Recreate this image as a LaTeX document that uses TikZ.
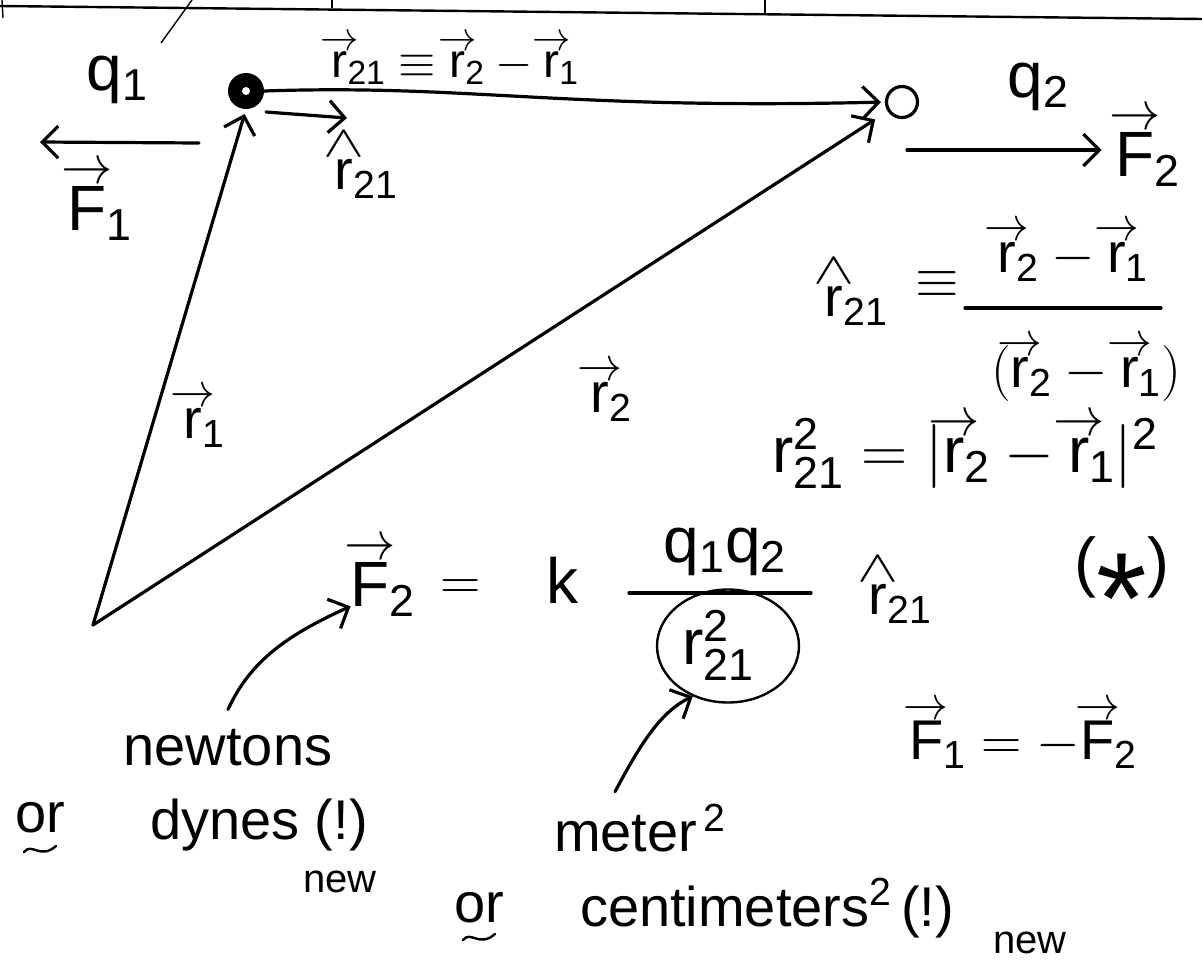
\RequirePackage{fix-cm}
\documentclass[tikz,border=0pt]{standalone}
\usepackage{fontspec}
\setmainfont{Liberation Sans}
\setsansfont{Liberation Sans}
\usetikzlibrary{arrows.meta,shapes.geometric}
\newcommand\Vc[1]{\mathord{\setbox0=\hbox{$\mathsf{#1}$}\hbox to\wd0{\hss\vbox{\offinterlineskip\halign{\hfil##\hfil\cr\scalebox{0.8}[0.85]{$\rightarrow$}\cr\noalign{\kern0.04em}\box0\cr}}\hss}}}
\newcommand\Hc[1]{\mathord{\setbox0=\hbox{$\mathsf{#1}$}\hbox to\wd0{\hss\vbox{\offinterlineskip\halign{\hfil##\hfil\cr\scalebox{1.1}[0.8]{$\wedge$}\cr\noalign{\kern0.06em}\box0\cr}}\hss}}}
\newcommand\sx[1]{\mathsf{#1}}
\newcommand\starmark{{\fontsize{66}{70}\selectfont(}\raisebox{-1.05em}{\fontsize{130}{130}\selectfont *}{\fontsize{66}{70}\selectfont)}}
\begin{document}
\begin{tikzpicture}[x=1pt,y=-1pt,
  ink/.style={line width=3.2pt, line cap=round, line join=round},
  vecto/.style={ink, -{Straight Barb[length=16pt,width=32pt]}},
  big/.style={inner sep=0pt, font=\fontsize{56}{60}\selectfont},
  lab/.style={inner sep=0pt, font=\fontsize{64}{68}\selectfont},
  mid/.style={inner sep=0pt, font=\fontsize{48}{52}\selectfont},
  large/.style={inner sep=0pt, font=\fontsize{64}{68}\selectfont},
  small/.style={inner sep=0pt, font=\fontsize{40}{44}\selectfont},
  rule/.style={line width=2.4pt},
  thin/.style={line width=1.4pt}
]
\useasboundingbox (0,0) rectangle (1202,964);
% top rule of the page
\draw[rule] (0,6) -- (1202,19);
\draw[thin] (332,0) -- (332,8);
\draw[thin] (765,0) -- (765,14);
\draw[thin] (192,0) -- (161,43);
\draw[thin] (2,0) -- (3,18);

% charges
\node[circle, fill=black, minimum size=36pt, inner sep=0pt] (q1) at (246,91) {};
\fill[white] (q1.center) circle (4);
\node[circle, draw, ink, minimum size=31pt, inner sep=0pt] (q2) at (902,102) {};
\coordinate (O) at (93,625);

% labels top
\node[lab] (lq1) at (117,80) {$\sx{q}_{\sx 1}$};
\node[lab] (lq2) at (1038,87) {$\sx{q}_{\sx 2}$};
\node[mid] (lr21) at (455,60) {$\Vc r_{\sx{21}} \equiv \Vc r_{\sx 2} - \Vc r_{\sx 1}$};
\node[lab] (lF1) at (100,202) {$\Vc F_{\sx 1}$};
\node[lab] (lF2) at (1148,148) {$\Vc F_{\sx 2}$};
\node[big] (lrh) at (366,165) {$\Hc r_{\sx{21}}$};
\node[big] (lr1) at (204,418) {$\Vc r_{\sx 1}$};
\node[big] (lr2) at (611,392) {$\Vc r_{\sx 2}$};

% vectors
\draw[vecto, shorten >=5pt] (O) -- (q1.south);
\draw[vecto, shorten >=32pt] (O) -- (q2.center);
\draw[vecto, shorten >=4pt] (q1.east) .. controls (470,84) and (560,110) .. (q2.west);
\coordinate (rh0) at (266,112);
\coordinate (rh1) at (347,118);
\draw[vecto] (rh0) -- (rh1);
\coordinate (f1a) at (199,143);
\coordinate (f1b) at (40,142);
\draw[vecto] (f1a) -- (f1b);
\coordinate (f2a) at (907,150);
\draw[vecto, shorten >=14pt] (f2a) -- (lF2.west |- f2a);

% definition of unit vector
\node[big] (rhdef) at (856,292) {$\Hc r_{\sx{21}}$};
\node[big] (eqv) at (937,285) {$\equiv$};
\node[big] (num) at (1073,252) {$\Vc r_{\sx 2} - \Vc r_{\sx 1}$};
\draw[ink] (965,308) -- (1161,308);
\node[big] (den) at (1086,370) {$\sx{(}\Vc r_{\sx 2} - \Vc r_{\sx 1}\sx{)}$};
\node[large] (r21sq) at (965,452) {$\sx r_{\sx{21}}^{\sx 2} = |\Vc r_{\sx 2} - \Vc r_{\sx 1}|^{\sx 2}$};

% Coulomb law
\node[lab] (F2) at (383,578) {$\Vc F_{\sx 2}$};
\node[big] (eq) at (461,590) {$=$};
\node[lab] (k) at (562,580) {$\sx k$};
\node[lab] (qq) at (725,552) {$\sx q_{\sx 1}\sx q_{\sx 2}$};
\draw[ink] (629,593) -- (811,593);
\node[lab] (den2) at (718,645) {$\sx r_{\sx{21}}^{\sx 2}$};
\node[draw, ellipse, line width=2.4pt, minimum width=142pt, minimum height=113pt] (circ) at (728,646) {};
\node[big] (rh2) at (900,590) {$\Hc r_{\sx{21}}$};
\node[big] (star) at (1122,590) {\starmark};
\node[big] (Feq) at (1023,735) {$\Vc F_{\sx 1} = -\Vc F_{\sx 2}$};

% units
\node[big] (newtons) at (228,748) {newtons};
\node[big] (or1) at (40,818) {or};
\draw[line width=2.4pt, line cap=round] (24,852) .. controls (32,842) and (40,860) .. (56,846);
\node[big] (dynes) at (259,825) {dynes (!)};
\node[small] (new1) at (340,882) {new};
\node[big] (meter) at (640,828) {meter\textsuperscript{\,2}};
\node[big] (or2) at (479,908) {or};
\draw[line width=2.4pt, line cap=round] (463,940) .. controls (471,930) and (479,948) .. (495,934);
\node[big] (cm) at (767,908) {centimeters\textsuperscript{2}\,(!)};
\node[small] (new2) at (1030,943) {new};

% pointer arrows
\draw[vecto] ([yshift=20pt]newtons.north) .. controls (250,662) and (285,636) .. ([yshift=10pt]F2.south west);
\draw[vecto] ([xshift=-25pt,yshift=12pt]meter.north) .. controls (640,745) and (660,712) .. (circ.235);
\end{tikzpicture}
\end{document}
